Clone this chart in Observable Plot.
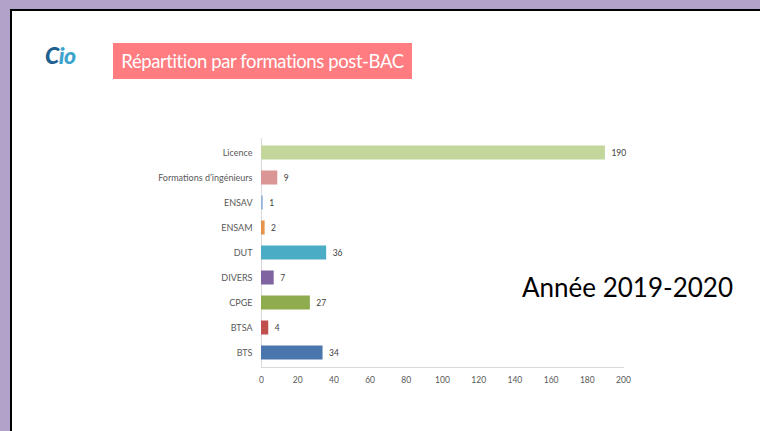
<!DOCTYPE html>
<html>
<head>
<meta charset="utf-8">
<script src="https://cdn.jsdelivr.net/npm/d3@7"></script>
<script src="https://cdn.jsdelivr.net/npm/@observablehq/plot@0.6"></script>
<style>
  html, body { margin: 0; padding: 0; }
  body { width: 760px; height: 431px; overflow: hidden; background: #b1a2c9; font-family: Lato, "Open Sans", sans-serif; }
  #stage { position: relative; width: 760px; height: 431px; }
  #slide { position: absolute; left: 10px; top: 9px; width: 760px; height: 440px; background: #fff; border-left: 2px solid #000; border-top: 2px solid #000; }
  #logo { position: absolute; left: 45px; top: 41px; font-size: 23px; font-weight: 900; font-style: italic; letter-spacing: -0.5px; }
  #title { position: absolute; left: 113px; top: 43px; width: 299px; height: 36px; background: #ff7c80; color: #fff; font-size: 18.5px; letter-spacing: -0.4px; line-height: 36px; text-align: center; white-space: nowrap; }
  #year { position: absolute; left: 522px; top: 271px; font-size: 26px; color: #000; white-space: nowrap; }
  #chart { position: absolute; left: 0; top: 0; }
</style>
</head>
<body>
<div id="stage">
  <div id="slide"></div>
  <div id="logo"><span style="color:#1d5f8e">C</span><span style="color:#3ba3cc">io</span></div>
  <div id="title">Répartition par formations post-BAC</div>
  <div id="year">Année 2019-2020</div>
  <div id="chart"></div>
</div>
<script>
const categories = ["Licence", "Formations d’ingénieurs", "ENSAV", "ENSAM", "DUT", "DIVERS", "CPGE", "BTSA", "BTS"];
const values = [190, 9, 1, 2, 36, 7, 27, 4, 34];
const colors = ["#c3d69b", "#d99694", "#95b3d7", "#e8914a", "#4bacc6", "#8064a2", "#8fac4f", "#c0504d", "#4a76ae"];
const xTicks = [0, 20, 40, 60, 80, 100, 120, 140, 160, 180, 200];

const data = categories.map((c, i) => ({cat: c, value: values[i]}));

const chart = Plot.plot({
  width: 760,
  height: 431,
  marginLeft: 261,
  marginRight: 137,
  marginTop: 138,
  marginBottom: 64,
  style: {background: "transparent", fontFamily: "Lato, sans-serif"},
  x: {domain: [0, 200]},
  y: {domain: categories, padding: 0},
  color: {domain: categories, range: colors},
  marks: [
    Plot.frame({anchor: "left", stroke: "#d9d9d9"}),
    Plot.frame({anchor: "bottom", stroke: "#d9d9d9"}),
    Plot.barX(data, {x: "value", y: "cat", fill: "cat", insetTop: 5.5, insetBottom: 5.5}),
    Plot.text(data, {x: "value", y: "cat", text: d => String(d.value), dx: 6, textAnchor: "start", fontSize: 8.5, fill: "#404040"}),
    Plot.axisY({tickSize: 0, tickPadding: 9, fontSize: 9, color: "#595959", label: null}),
    Plot.axisX({ticks: xTicks, tickSize: 0, tickPadding: 9, fontSize: 8.5, color: "#595959", label: null})
  ]
});
document.getElementById("chart").appendChild(chart);
</script>
</body>
</html>
